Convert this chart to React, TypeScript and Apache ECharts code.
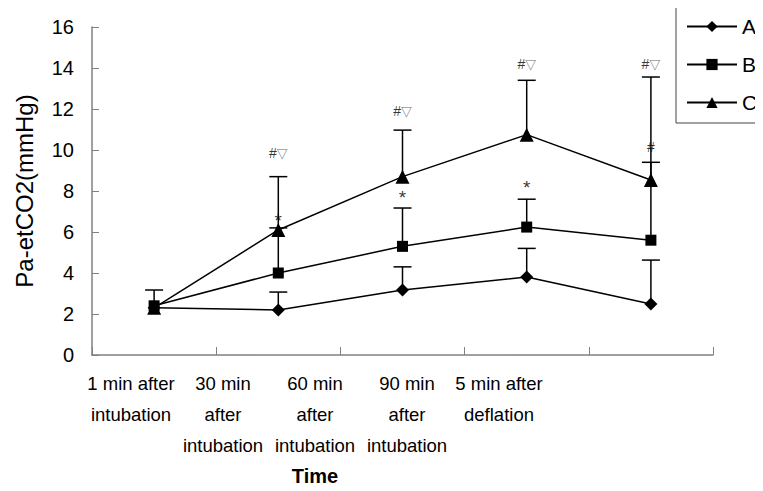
import React, { useEffect, useRef } from "react";
import * as echarts from "echarts";

const categories = [
  "1 min after\nintubation",
  "30 min\nafter\nintubation",
  "60 min\nafter\nintubation",
  "90 min\nafter\nintubation",
  "5 min after\ndeflation",
];
const seriesNames = ["A", "B", "C"];
const valuesA = [2.3, 2.2, 3.17, 3.8, 2.49];
const valuesB = [2.4, 4.0, 5.3, 6.24, 5.6];
const valuesC = [2.3, 6.1, 8.7, 10.75, 8.54];
const upperA = [null, 3.07, 4.3, 5.2, 4.63];
const upperB = [3.17, 6.2, 7.17, 7.6, 9.4];
const upperC = [null, 8.7, 10.97, 13.4, 13.56];
const symbols = ["diamond", "rect", "triangle"];
const annText = ["#▽", "#▽", "#▽", "#▽", "*", "*", "*", "#"];
const annX = [1, 2, 3, 4, 1, 2, 3, 4];
const annY = [9.85, 11.9, 14.2, 14.2, 6.7, 7.85, 8.3, 10.15];
const yTicks = { min: 0, max: 16, interval: 2 };

const FONT = "'Liberation Sans', Arial, sans-serif";

export default function App() {
  const ref = useRef<HTMLDivElement>(null);
  useEffect(() => {
    if (!ref.current) return;
    const chart = echarts.init(ref.current, null, { renderer: "svg" });
    const values = [valuesA, valuesB, valuesC];
    const uppers = [upperA, upperB, upperC];
    const sizes = [13, 11, 14];

    const lineSeries = seriesNames.map((n, i) => ({
      name: n,
      type: "line",
      xAxisIndex: 0,
      yAxisIndex: 0,
      data: values[i],
      symbol: symbols[i],
      symbolSize: sizes[i],
      showSymbol: true,
      lineStyle: { color: "#000", width: 1.5 },
      itemStyle: { color: "#000" },
      z: 3,
    }));

    const errSeries = seriesNames.map((n, i) => ({
      name: n + "-err",
      type: "custom",
      xAxisIndex: 0,
      yAxisIndex: 0,
      silent: true,
      z: 2,
      data: values[i]
        .map((v, k) => (uppers[i][k] == null ? null : [k, v, uppers[i][k]]))
        .filter((d) => d !== null),
      encode: { x: 0, y: [1, 2] },
      renderItem: (params: any, api: any) => {
        const x = api.value(0);
        const p0 = api.coord([x, api.value(1)]);
        const p1 = api.coord([x, api.value(2)]);
        const hw = 9;
        return {
          type: "group",
          children: [
            {
              type: "line",
              shape: { x1: p0[0], y1: p0[1], x2: p1[0], y2: p1[1] },
              style: { stroke: "#000", lineWidth: 1.5 },
            },
            {
              type: "line",
              shape: { x1: p1[0] - hw, y1: p1[1], x2: p1[0] + hw, y2: p1[1] },
              style: { stroke: "#000", lineWidth: 1.5 },
            },
          ],
        };
      },
    }));

    const annSeries = {
      type: "scatter",
      xAxisIndex: 0,
      yAxisIndex: 0,
      silent: true,
      symbolSize: 0,
      z: 5,
      data: annText.map((t, k) => ({
        value: [annX[k], annY[k]],
        label: {
          show: true,
          position: "inside",
          formatter: t.replace("#", "{h|#}").replace("▽", "{t|▽}").replace("*", "{s|*}"),
          rich: {
            h: { color: "#000", fontSize: 14, fontFamily: FONT },
            s: { color: "#000", fontSize: 19, fontFamily: FONT, padding: [6, 0, 0, 0] },
            t: { color: "#777", fontSize: 14, fontFamily: "'DejaVu Sans', sans-serif" },
          },
        },
      })),
    };

    chart.setOption({
      animation: false,
      backgroundColor: "#fff",
      textStyle: { fontFamily: FONT },
      grid: [
        { left: 92, right: 50, top: 27, bottom: 136 },
        { left: 85, width: 460, top: 27, bottom: 136 },
      ],
      legend: {
        data: seriesNames,
        orient: "vertical",
        left: 676,
        top: 6,
        padding: [10, 12, 10, 10],
        itemGap: 17,
        itemWidth: 50,
        itemHeight: 14,
        borderColor: "#444",
        borderWidth: 1,
        textStyle: { fontSize: 21, color: "#000", fontFamily: FONT },
      },
      xAxis: [
        {
          type: "category",
          gridIndex: 0,
          data: categories,
          boundaryGap: true,
          axisLine: { lineStyle: { color: "#808080", width: 1.5 } },
          axisTick: { show: true, inside: true, length: 8, lineStyle: { color: "#808080" } },
          axisLabel: { show: false },
        },
        {
          type: "category",
          gridIndex: 1,
          data: categories,
          axisLine: { show: false },
          axisTick: { show: false },
          axisLabel: {
            color: "#000",
            fontSize: 18.5,
            lineHeight: 31,
            margin: 22,
            fontFamily: FONT,
            interval: 0,
          },
          name: "Time",
          nameLocation: "middle",
          nameGap: 111,
          nameTextStyle: { fontSize: 20, fontWeight: "bold", color: "#000", fontFamily: FONT },
        },
      ],
      yAxis: [
        {
          type: "value",
          gridIndex: 0,
          min: yTicks.min,
          max: yTicks.max,
          interval: yTicks.interval,
          splitLine: { show: false },
          axisLine: { show: true, lineStyle: { color: "#808080", width: 1.5 } },
          axisTick: { show: true, inside: true, length: 7, lineStyle: { color: "#808080" } },
          axisLabel: { color: "#000", fontSize: 20, margin: 18, fontFamily: FONT },
          name: "Pa-etCO2(mmHg)",
          nameLocation: "middle",
          nameGap: 56,
          nameTextStyle: { fontSize: 24, color: "#000", fontFamily: FONT },
        },
        { type: "value", gridIndex: 1, show: false, min: 0, max: 16 },
      ],
      series: [...errSeries, ...lineSeries, annSeries],
    });
    return () => chart.dispose();
  }, []);
  return <div ref={ref} style={{ width: 763, height: 491, margin: -8 }} />;
}
